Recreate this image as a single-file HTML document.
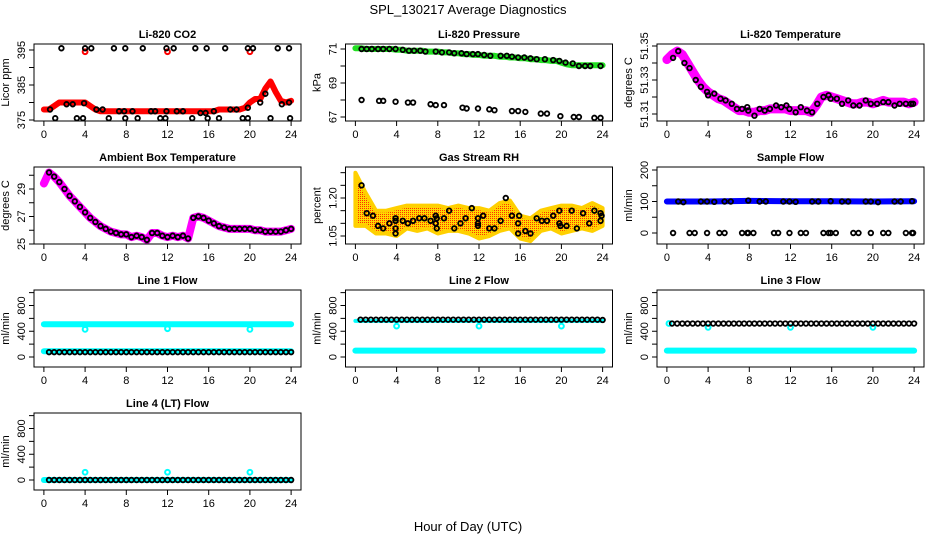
<!DOCTYPE html>
<html><head><meta charset="utf-8"><style>
html,body{margin:0;padding:0;background:#fff}
svg{display:block;font-family:"Liberation Sans",Arial,sans-serif}
</style></head><body>
<svg id="chart" width="936" height="540" viewBox="0 0 936 540">
<text x="468" y="14" text-anchor="middle" font-size="13">SPL_130217  Average Diagnostics</text>
<text x="468" y="531" text-anchor="middle" font-size="13">Hour of Day (UTC)</text>
</svg>
<script>
const T49=[0,0.5,1,1.5,2,2.5,3,3.5,4,4.5,5,5.5,6,6.5,7,7.5,8,8.5,9,9.5,10,10.5,11,11.5,12,12.5,13,13.5,14,14.5,15,15.5,16,16.5,17,17.5,18,18.5,19,19.5,20,20.5,21,21.5,22,22.5,23,23.5,24];
const T24=[0,1,2,3,4,5,6,7,8,9,10,11,12,13,14,15,16,17,18,19,20,21,22,23,24];
const blackT=[0.5,1,1.5,2,2.5,3,3.5,4,4.5,5,5.5,6,6.5,7,7.5,8,8.5,9,9.5,10,10.5,11,11.5,12,12.5,13,13.5,14,14.5,15,15.5,16,16.5,17,17.5,18,18.5,19,19.5,20,20.5,21,21.5,22,22.5,23,23.5,24];
const dipT=[4,12,20];
const xTicks=[0,4,8,12,16,20,24];

// CO2
const co2Band=[378,378,379,380,380,380,380,380,380,379,378,377.5,377.5,377.5,377.5,377.5,377.5,377.5,377.5,377.5,377.5,377.5,377.5,377.5,377.5,377.5,377.5,377.5,377.5,377.5,377.5,377.5,377.5,377.5,378,378,378,378,378,378.5,380,381,381,384,386,383,380.5,380,380.5];
const co2RedOutT=[4,12,20];
const co2RedOutV=[394.5,394.5,394.5];
const co2TopT=[1.7,4,4.6,6.8,7.9,9.6,11.9,12.6,14.7,15.8,17.6,19.8,20.3,22.7,23.8];
const co2TopV=[395.5,395.5,395.5,395.5,395.5,395.5,395.5,395.5,395.5,395.5,395.5,395.5,395.5,395.5,395.5];
const co2LowT=[1.1,3.2,3.8,6.3,7.9,9.1,11.3,11.8,14.4,15.9,17.0,19.3,19.8,22.0,23.9];
const co2LowV=[375.5,375.5,375.5,375.5,375.5,375.5,375.5,375.5,375.5,375.5,375.5,375.5,375.5,375.5,375.5];
const co2MidT=[0.6,2.2,2.8,3.9,5.1,5.7,7.3,7.8,8.6,10.4,10.8,11.9,12.9,13.5,15.2,15.7,16.5,18.1,18.7,19.8,21.0,21.5,23.1,23.8];
const co2MidV=[378,379.5,379.5,379.8,378,378,377.5,377.5,377.5,377.5,377.5,377.5,377.5,377.5,377,377,377.5,378,378,378.5,380,382.5,379.5,380];

// Pressure
const presBand=[71.05,71.05,71.0,71.0,71.0,71.0,71.0,71.0,70.95,70.95,70.9,70.9,70.9,70.9,70.85,70.85,70.85,70.8,70.8,70.75,70.75,70.7,70.7,70.65,70.65,70.6,70.6,70.6,70.55,70.55,70.5,70.5,70.45,70.45,70.4,70.4,70.35,70.35,70.3,70.3,70.2,70.1,70.05,70.05,70.05,70.05,70.05,70.05,70.05];
const presUpT=[0.6,1.1,1.6,2.2,2.7,3.3,3.9,4.6,5.2,5.7,6.3,6.8,7.8,8.4,9.1,9.6,10.3,10.8,11.4,11.9,12.5,13.1,14.1,14.7,15.2,15.8,16.4,17.0,17.6,18.4,19.2,19.8,20.4,21.1,21.7,22.3,22.8,23.8];
const presUpV=[71.0,71.0,71.0,71.0,71.0,71.0,71.0,70.95,70.9,70.9,70.9,70.85,70.85,70.8,70.8,70.75,70.75,70.7,70.7,70.7,70.65,70.6,70.6,70.6,70.55,70.5,70.5,70.45,70.4,70.4,70.35,70.3,70.2,70.15,70.0,70.0,70.0,70.0];
const presLowT=[0.6,2.3,2.7,3.9,5.1,5.6,7.3,7.8,8.6,10.4,10.8,11.9,13.0,13.5,15.2,15.8,16.5,18.0,18.6,19.9,21.2,21.7,23.2,23.8];
const presLowV=[68.0,67.95,67.95,67.9,67.85,67.85,67.75,67.7,67.7,67.55,67.5,67.5,67.45,67.4,67.35,67.35,67.3,67.2,67.2,67.05,67.0,67.0,66.95,66.95];

// Li-820 temperature
const tempBand=[51.342,51.345,51.347,51.345,51.34,51.335,51.33,51.326,51.323,51.321,51.319,51.318,51.316,51.314,51.312,51.312,51.311,51.311,51.312,51.312,51.313,51.313,51.313,51.313,51.312,51.312,51.312,51.312,51.311,51.315,51.32,51.321,51.32,51.319,51.318,51.317,51.316,51.316,51.317,51.317,51.316,51.317,51.318,51.317,51.317,51.317,51.317,51.316,51.317];
const tempDotT=[0.6,1.1,1.7,2.2,2.8,3.3,3.9,4.0,4.6,5.2,5.7,6.3,6.8,7.3,7.8,7.9,8.5,9.0,9.5,10.0,10.6,11.1,11.6,11.9,12.5,13.0,13.6,14.1,14.6,15.2,15.7,15.9,16.5,17.0,17.6,18.1,18.7,19.3,19.8,20.4,21.0,21.5,22.1,22.6,23.2,23.7,23.9];
const tempDotV=[51.343,51.347,51.34,51.337,51.33,51.326,51.323,51.321,51.322,51.319,51.318,51.316,51.313,51.313,51.314,51.312,51.309,51.313,51.312,51.313,51.315,51.314,51.315,51.313,51.311,51.314,51.312,51.311,51.316,51.32,51.321,51.319,51.319,51.316,51.318,51.315,51.315,51.318,51.316,51.316,51.317,51.317,51.315,51.316,51.316,51.316,51.316];

// Ambient box temperature
const ambBand=[29.4,30.2,29.9,29.5,29.0,28.5,28.1,27.7,27.3,26.9,26.6,26.3,26.1,25.9,25.8,25.7,25.7,25.5,25.6,25.5,25.3,25.8,25.8,25.6,25.5,25.6,25.5,25.6,25.4,26.9,27.0,26.9,26.7,26.5,26.3,26.2,26.1,26.1,26.1,26.1,26.1,26.0,26.0,25.9,25.9,25.9,25.9,26.0,26.1];

// Gas stream RH
const rhUpper=[1.30,1.22,1.15,1.15,1.16,1.17,1.17,1.17,1.17,1.16,1.17,1.16,1.16,1.15,1.18,1.19,1.13,1.12,1.15,1.16,1.17,1.17,1.16,1.18,1.16];
const rhLower=[1.09,1.09,1.06,1.06,1.05,1.08,1.07,1.08,1.06,1.07,1.07,1.06,1.04,1.05,1.07,1.08,1.04,1.03,1.07,1.08,1.06,1.07,1.08,1.07,1.09];
const rhDotT=[0.6,1.1,1.7,2.2,2.7,3.3,3.9,3.9,3.9,3.9,4.6,5.1,5.6,6.2,6.7,7.3,7.8,7.9,7.9,7.8,8.6,9.1,9.6,10.2,10.7,11.3,11.9,11.9,11.9,12.4,13.0,13.5,14.1,14.6,15.2,15.8,15.9,15.8,16.5,17.0,17.6,18.1,18.6,19.2,19.8,19.8,19.9,20.5,21.0,21.5,22.1,22.7,23.2,23.8,23.8,23.9];
const rhDotV=[1.25,1.14,1.13,1.09,1.08,1.10,1.12,1.11,1.08,1.06,1.11,1.10,1.11,1.12,1.12,1.11,1.13,1.12,1.08,1.10,1.12,1.15,1.08,1.10,1.12,1.16,1.12,1.09,1.10,1.13,1.08,1.08,1.11,1.20,1.13,1.10,1.13,1.06,1.07,1.06,1.12,1.11,1.11,1.13,1.15,1.10,1.09,1.09,1.15,1.08,1.14,1.10,1.15,1.14,1.11,1.13];

// Sample flow
const sfBandT=[0,4,8,12,16,20,24];
const sfBandV=[100,100,102,101,101,100,101];
const sfUpT=[1.1,1.6,3.3,3.9,4.6,5.6,6.2,7.9,9.0,9.6,11.3,11.9,12.5,14.1,14.7,15.9,17.0,17.6,19.3,19.8,20.5,22.1,22.7,23.8];
const sfUpV=[100,98,100,100,99,100,100,103,100,100,100,100,99,100,100,101,100,100,100,100,98,100,100,101];
const sfLowT=[0.6,2.2,2.7,3.9,5.1,5.6,7.3,7.8,7.9,8.4,10.4,10.8,11.9,13.0,13.5,15.2,15.7,15.9,16.4,18.1,18.6,19.8,21.0,21.5,23.2,23.8,23.9];
const sfLowV=[0,0,0,0,0,0,0,0,0,0,0,0,0,0,0,0,0,0,0,0,0,0,0,0,0,0,0];

// Line flows
const bandT=[0,4,8,12,16,20,24];
const line1Cyan=[510,510,510,510,510,510,510];
const line1CyanLow=[90,90,90,90,90,90,90];
const line1Black=[75,75,75,75,75,75,75,75,75,75,75,75,75,75,75,75,75,75,75,75,75,75,75,75,75,75,75,75,75,75,75,75,75,75,75,75,75,75,75,75,75,75,75,75,75,75,75,75];
const line1Dip=[430,440,430];
const line2Cyan=[560,560,560,560,560,560,560];
const line2CyanLow=[100,100,100,100,100,100,100];
const line2Black=[580,580,580,580,580,580,580,580,580,580,580,580,580,580,580,580,580,580,580,580,580,580,580,580,580,580,580,580,580,580,580,580,580,580,580,580,580,580,580,580,580,580,580,580,580,580,580,575];
const line2Dip=[480,480,480];
const line3CyanLow=[100,100,100,100,100,100,100];
const line3Black=[520,520,520,520,520,520,520,520,520,520,520,520,520,520,520,520,520,520,520,520,520,520,520,520,520,520,520,520,520,520,520,520,520,520,520,520,520,520,520,520,520,520,520,520,520,520,520,520];
const line3Dip=[460,460,460];
const line4Cyan=[0,0,0,0,0,0,0];
const line4Black=[0,0,0,0,0,0,0,0,0,0,0,0,0,0,0,0,0,0,0,0,0,0,0,0,0,0,0,0,0,0,0,0,0,0,0,0,0,0,0,0,0,0,0,0,0,0,0,0];
const line4Spike=[120,120,120];

const NS='http://www.w3.org/2000/svg';
const svg=document.getElementById('chart');
const colL=[34,345.5,657], rowT=[44,167,290,413], W=267, H=77;
function mk(tag,attrs,parent){const e=document.createElementNS(NS,tag);for(const k in attrs)e.setAttribute(k,attrs[k]);(parent||svg).appendChild(e);return e;}

function panel(key,title,ylab,col,row,v1,p1,v2,p2,yticks,ylabels){
  const L=colL[col],Tp=rowT[row];
  const g=mk('g',{});
  
  
  const P={g,L,Tp,
    x:t=>L+(t+0.96)*W/25.92,
    y:v=>Tp+p1+(v-v1)*(p2-p1)/(v2-v1)};
  const tt=mk('text',{x:L+W/2,y:Tp-6,'text-anchor':'middle','font-size':11,'font-weight':'bold'},g);
  tt.textContent=title;
  
  
  const ax=mk('g',{stroke:'#000','stroke-width':1},g);
  
  
  mk('line',{x1:P.x(0),x2:P.x(24),y1:Tp+H,y2:Tp+H},ax);
  xTicks.forEach(t=>{
    mk('line',{x1:P.x(t),x2:P.x(t),y1:Tp+H,y2:Tp+H+5},ax);
    const lb=mk('text',{x:P.x(t),y:Tp+H+17,'text-anchor':'middle','font-size':11,stroke:'none'},g);
    lb.textContent=t;
    
    
  });
  const ay=mk('g',{stroke:'#000','stroke-width':1},g);
  
  
  mk('line',{x1:L,x2:L,y1:P.y(yticks[0]),y2:P.y(yticks[yticks.length-1])},ay);
  yticks.forEach(v=>mk('line',{x1:L-5,x2:L,y1:P.y(v),y2:P.y(v)},ay));
  ylabels.forEach(v=>{
    const yy=P.y(v);
    const lb=mk('text',{x:L-9,y:yy,'text-anchor':'middle','font-size':11,transform:`rotate(-90 ${L-9} ${yy})`},g);
    lb.textContent=v;
    
    
  });
  const yl=mk('text',{x:L-25,y:Tp+H/2,'text-anchor':'middle','font-size':11,transform:`rotate(-90 ${L-25} ${Tp+H/2})`},g);
  yl.textContent=ylab;
  
  
  P.plot=mk('g',{},g);
  
  
  const box=mk('rect',{x:L,y:Tp,width:W,height:H,fill:'none',stroke:'#000','stroke-width':1},g);
  
  
  return P;
}
function band(P,ts,vs,color,w,name){
  const n=Math.min(ts.length,vs.length);const pts=[];
  for(let i=0;i<n;i++)pts.push(P.x(ts[i]).toFixed(1)+','+P.y(vs[i]).toFixed(1));
  const pl=mk('polyline',{points:pts.join(' '),fill:'none',stroke:color,'stroke-width':w,'stroke-linecap':'round','stroke-linejoin':'round'},P.plot);
  
  
}
function dots(P,ts,vs,color,name,r,sw){
  const n=Math.min(ts.length,vs.length);
  const g=mk('g',{fill:'none',stroke:color,'stroke-width':sw||1.8},P.plot);
  
  
  for(let i=0;i<n;i++){
    const c=mk('circle',{cx:P.x(ts[i]),cy:P.y(vs[i]),r:r||2.3},g);
    
    
  }
}

// CO2
let P=panel('co2','Li-820 CO2','Licor ppm',0,0,375,76,395,6,[375,380,385,390,395],[375,385,395]);
band(P,T49,co2Band,'#ff0000',6,'co2-red-series');
dots(P,co2RedOutT,co2RedOutV,'#ff0000','co2-red-outliers',2.4,2);
dots(P,co2TopT,co2TopV,'#000','co2-black-top');
dots(P,co2LowT,co2LowV,'#000','co2-black-low');
dots(P,co2MidT,co2MidV,'#000','co2-black-mid');

// Pressure
P=panel('pressure','Li-820 Pressure','kPa',1,0,67,73,71,5,[67,68,69,70,71],[67,69,71]);
band(P,T49,presBand,'#22e022',6,'pressure-green-series');
dots(P,presUpT,presUpV,'#000','pressure-black-upper');
dots(P,presLowT,presLowV,'#000','pressure-black-lower');

// Temperature
P=panel('li820-temp','Li-820 Temperature','degrees C',2,0,51.31,70,51.35,2,[51.31,51.32,51.33,51.34,51.35],['51.31','51.33','51.35']);
band(P,T49,tempBand,'#ff00ff',9,'temp-magenta-series');
dots(P,tempDotT,tempDotV,'#000','temp-black-points');

// Ambient
P=panel('ambient','Ambient Box Temperature','degrees C',0,1,25,77,29,22,[25,26,27,28,29,30],[25,27,29]);
band(P,T49,ambBand,'#ff00ff',8,'ambient-magenta-series');
dots(P,T49.slice(1),ambBand.slice(1),'#000','ambient-black-points');

// RH
P=panel('rh','Gas Stream RH','percent',1,1,1.05,69,1.20,31,[1.05,1.10,1.15,1.20,1.25,1.30],['1.05','1.20']);
(function(){
  const d=mk('defs',{});
  const pt=mk('pattern',{id:'rhpat',width:2,height:2,patternUnits:'userSpaceOnUse'},d);
  mk('rect',{width:2,height:2,fill:'#ffd800'},pt);
  mk('rect',{x:0,y:0,width:1,height:1,fill:'#ff3000'},pt);
  const up=T24.map((t,i)=>P.x(t).toFixed(1)+','+P.y(rhUpper[i]).toFixed(1));
  const lo=T24.map((t,i)=>P.x(t).toFixed(1)+','+P.y(rhLower[i]).toFixed(1)).reverse();
  const pg=mk('polygon',{points:up.concat(lo).join(' '),fill:'url(#rhpat)',stroke:'#ffd000','stroke-width':4,'stroke-linejoin':'round'},P.plot);
  
  
})();
dots(P,rhDotT,rhDotV,'#000','rh-black-points');

// Sample flow
P=panel('sample-flow','Sample Flow','ml/min',2,1,0,66,200,3,[0,50,100,150,200],[0,100,200]);
band(P,sfBandT,sfBandV,'#0000ff',6,'sample-flow-blue-series');
dots(P,sfUpT,sfUpV,'#000','sample-flow-black-upper');
dots(P,sfLowT,sfLowV,'#000','sample-flow-black-lower');

const fT=[0,200,400,600,800,1000], fL=[0,400,800];
// Line 1
P=panel('line1','Line 1 Flow','ml/min',0,2,0,67,800,15.5,fT,fL);
band(P,bandT,line1Cyan,'#00ffff',6,'line1-cyan-high');
band(P,bandT,line1CyanLow,'#00ffff',6,'line1-cyan-low');
dots(P,dipT,line1Dip,'#00ffff','line1-cyan-dips',2.4,2);
dots(P,blackT,line1Black,'#000','line1-black-points');
// Line 2
P=panel('line2','Line 2 Flow','ml/min',1,2,0,67,800,15.5,fT,fL);
band(P,bandT,line2CyanLow,'#00ffff',6,'line2-cyan-low');
band(P,bandT,line2Cyan,'#00ffff',4,'line2-cyan-high');
dots(P,dipT,line2Dip,'#00ffff','line2-cyan-dips',2.4,2);
dots(P,blackT,line2Black,'#000','line2-black-points');
// Line 3
P=panel('line3','Line 3 Flow','ml/min',2,2,0,67,800,15.5,fT,fL);
band(P,bandT,line3CyanLow,'#00ffff',6,'line3-cyan-low');
dots(P,dipT,line3Dip,'#00ffff','line3-cyan-dips',2.4,2);
dots(P,[0.2],[520],'#00ffff','line3-cyan-start',2.4,2);
dots(P,blackT,line3Black,'#000','line3-black-points');
// Line 4
P=panel('line4','Line 4 (LT) Flow','ml/min',0,3,0,67,800,15.5,fT,fL);
band(P,bandT,line4Cyan,'#00ffff',6,'line4-cyan-series');
dots(P,dipT,line4Spike,'#00ffff','line4-cyan-spikes',2.4,2);
dots(P,blackT,line4Black,'#000','line4-black-points');
</script>
</body></html>
